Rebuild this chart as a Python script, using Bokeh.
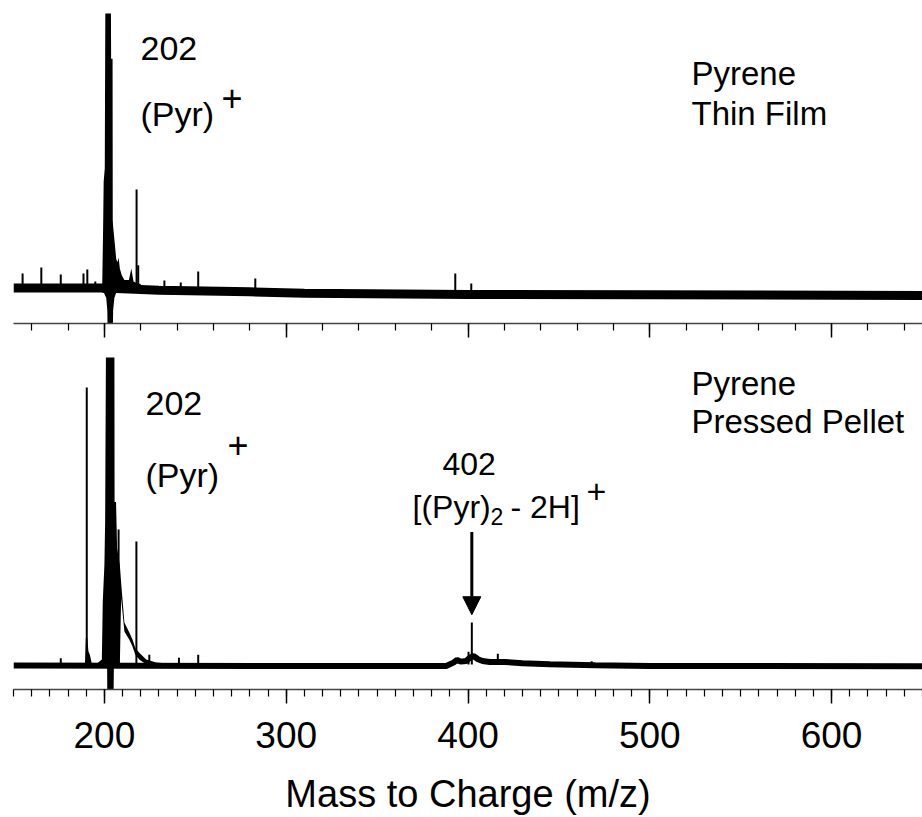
from bokeh.plotting import figure
from bokeh.layouts import column
from bokeh.models import Range1d, FixedTicker, Label, Arrow, NormalHead
from bokeh.embed import file_html
from bokeh.resources import INLINE

# ---------------- data (m/z, intensity in arbitrary units) ----------------
# Thin film spectrum
top_base_mz = [150, 200, 230, 280, 310, 400, 500, 650]
top_base = [1.0, 1.0, 0.3, -0.2, -0.6, -1.0, -1.1, -1.3]

top_env_mz = [198.8, 199.3, 199.6, 200.2, 200.5, 201.0, 201.6, 201.8, 203.6, 203.7, 204.5, 204.6,
              204.8, 205.5, 206.5, 207.2, 207.8, 208.5, 209.5, 211.0, 213.5, 214.8, 216.0, 218.0, 220.0]
top_env_hi = [1.8, 20, 34, 38, 86, 86, 86, 86, 86, 72, 72, 22,
              20, 16, 10, 9, 10.4, 7, 5, 3.5, 3.5, 7, 3, 2.5, 2.2]
top_env_lo = [-0.5, -0.5, -0.5, -1, -1.5, -2, -6, -14, -14, -14, -14, -14,
              -6, -2, -0.5, 0.5, 1, 0.5, 0, -0.2, -0.2, -0.2, -0.2, -0.2, -0.2]

top_spk_mz = [155.0, 165.3, 176.0, 188.5, 190.6, 195.0, 217.7, 218.6, 233.0, 242.0, 251.6, 283.0, 393.0, 401.8]
top_spk_h = [5.5, 7.3, 5.2, 5.5, 6.7, 3.0, 31.5, 8.0, 3.3, 2.7, 6.1, 3.9, 5.5, 2.4]

# Pressed pellet spectrum
bot_base_mz = [150, 300, 388, 392, 394, 396, 399, 401, 403, 405.5, 408, 412, 420, 430, 445, 470, 500, 650]
bot_base = [-0.3, -0.4, -0.4, 0.6, 1.4, 0.9, 1.1, 2.1, 2.6, 1.6, 1.1, 0.8, 0.8, 0.4, 0.1, -0.2, -0.4, -0.5]

bot_env_mz = [189.3, 189.8, 190.6, 191.2, 192.0, 193.0, 196.0, 198.6, 199.1, 200.0, 200.4, 200.9,
              201.5, 201.6, 205.0, 205.2, 205.5, 205.6, 206.4, 207.0, 208.5, 209.2, 211.0, 213.7,
              215.4, 217.0, 219.2, 223.0, 228.5, 235.0]
bot_env_hi = [0, 8, 8, 4, 3, 0.5, 0.3, 1.5, 19, 30, 42.8, 100,
              100, 100, 100, 100, 100, 49, 49, 35, 30, 24.7, 12.7, 9.7,
              7.6, 5, 3.6, 1.5, 0.6, 0.3]
bot_env_lo = [-0.4, -0.4, -0.4, -0.4, -0.4, -0.4, -0.5, -0.5, -0.5, -0.5, -0.5, -0.5,
              -1, -12, -12, -1, 0, 0, 0, 0, 0, 20, 10, 7.5,
              5.5, 3, 1.5, 0, -0.4, -0.4]

bot_spk_mz = [176.0, 190.3, 207.8, 217.6, 224.7, 241.0, 251.6, 400.3, 402.1, 416.4, 468.0]
bot_spk_h = [1.9, 83.5, 40.7, 37.1, 3.0, 2.1, 3.0, 3.9, 12.7, 3.3, 1.0]

major_ticks = [200, 300, 400, 500, 600]
top_minor = list(range(160, 650, 20))
bot_minor = list(range(150, 651, 10))
x_title = "Mass to Charge (m/z)"

FONT = "Liberation Sans"
FS = 34
DY = 12  # baseline correction for labels


def base_fig(height, yr, border_bottom):
    p = figure(width=922, height=height, x_range=Range1d(150, 650), y_range=Range1d(*yr),
               output_backend="svg", toolbar_location=None, y_axis_location=None,
               min_border_left=13, min_border_right=0, min_border_top=0,
               min_border_bottom=border_bottom)
    p.outline_line_color = None
    p.xgrid.visible = False
    p.ygrid.visible = False
    ax = p.xaxis[0]
    ax.axis_line_color = "#444444"
    ax.axis_line_width = 1.5
    ax.major_tick_in = 0
    ax.major_tick_out = 14
    ax.minor_tick_in = 0
    ax.minor_tick_out = 7
    ax.major_tick_line_width = 1.5
    ax.minor_tick_line_width = 1.2
    ax.major_tick_line_color = "black"
    ax.minor_tick_line_color = "black"
    return p


def lab(p, x, y, text, size=FS, dx=0, dy=0, align="left"):
    p.add_layout(Label(x=x, y=y, text=text, x_offset=dx, y_offset=dy + DY,
                       text_font=FONT, text_font_size=f"{size}px",
                       text_color="black", text_baseline="alphabetic", text_align=align))


# pixel -> data helpers for placing annotations
def mzx(px):
    return 150 + (px - 13) / 1.818


def vt(py):
    return (323 - py) / 3.23 - 10


def vb(py):
    return (690 - py) / 3.33 - 7.5


# ---------------- top panel ----------------
p1 = base_fig(357, (-10, 90), 34)
p1.xaxis.ticker = FixedTicker(ticks=major_ticks, minor_ticks=top_minor)
p1.xaxis.major_label_overrides = {t: "" for t in major_ticks}
p1.xaxis.major_label_standoff = 0
p1.xaxis.major_label_text_font_size = "1px"

p1.line(top_base_mz, top_base, line_width=9, color="black")
p1.varea(x=top_env_mz, y1=top_env_lo, y2=top_env_hi, fill_color="black")
p1.segment(x0=top_spk_mz, y0=[0] * len(top_spk_mz), x1=top_spk_mz, y1=top_spk_h,
           line_width=2, color="black")

lab(p1, mzx(140), vt(60), "202")
lab(p1, mzx(140), vt(125), "(Pyr)")
lab(p1, mzx(221), vt(109), "+", size=36)
lab(p1, mzx(691), vt(85), "Pyrene", size=33)
lab(p1, mzx(691), vt(125), "Thin Film", size=33)

# ---------------- bottom panel ----------------
p2 = base_fig(460, (-7.5, 92.5), 127)
p2.xaxis.ticker = FixedTicker(ticks=major_ticks, minor_ticks=bot_minor)
p2.xaxis.major_label_text_font = FONT
p2.xaxis.major_label_text_font_size = "37px"
p2.xaxis.major_label_text_color = "black"
p2.xaxis.major_label_standoff = 18
p2.xaxis.axis_label = x_title
p2.xaxis.axis_label_text_font = FONT
p2.xaxis.axis_label_text_font_size = "38px"
p2.xaxis.axis_label_text_font_style = "normal"
p2.xaxis.axis_label_text_color = "black"
p2.xaxis.axis_label_standoff = 22

p2.line(bot_base_mz, bot_base, line_width=6, color="black")
p2.varea(x=bot_env_mz, y1=bot_env_lo, y2=bot_env_hi, fill_color="black")
p2.segment(x0=bot_spk_mz, y0=[0] * len(bot_spk_mz), x1=bot_spk_mz, y1=bot_spk_h,
           line_width=2, color="black")

lab(p2, mzx(145), vb(415), "202")
lab(p2, mzx(145), vb(487), "(Pyr)")
lab(p2, mzx(227), vb(457), "+", size=36)
lab(p2, mzx(691), vb(395), "Pyrene", size=33)
lab(p2, mzx(691), vb(433), "Pressed Pellet", size=33)
lab(p2, mzx(442), vb(476), "402", size=32)
lab(p2, mzx(412), vb(519), "[(Pyr)", size=32)
lab(p2, mzx(412), vb(519), "2", size=23, dx=78, dy=-9)
lab(p2, mzx(412), vb(519), "- 2H]", size=32, dx=98)
lab(p2, mzx(412), vb(519), "+", size=34, dx=174, dy=16)

p2.add_layout(Arrow(end=NormalHead(size=18, fill_color="black", line_color="black"),
                    x_start=402.1, y_start=vb(532), x_end=402.1, y_end=vb(615),
                    line_width=3, line_color="black"))

layout = column(p1, p2, spacing=0)
open("out.html", "w").write(file_html(layout, INLINE))
